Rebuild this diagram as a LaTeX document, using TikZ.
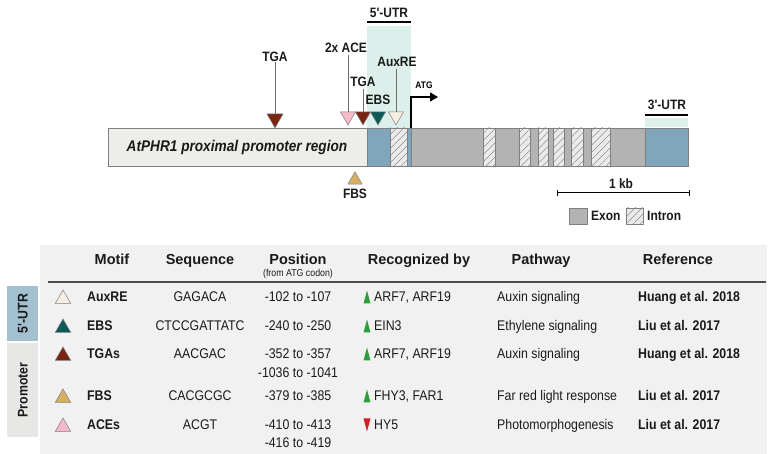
\documentclass[tikz,border=0pt]{standalone}
\usepackage{fontspec}
\setmainfont{Liberation Sans}
\newfontfamily\nf[FakeStretch=0.88]{Liberation Sans}
\usetikzlibrary{shapes.geometric,patterns.meta,arrows.meta}
\definecolor{promfill}{HTML}{EDEDEA}
\definecolor{barline}{HTML}{7F7F7F}
\definecolor{utrblue}{HTML}{7FA6BA}
\definecolor{exongray}{HTML}{B3B3B3}
\definecolor{intronbg}{HTML}{EBEBEB}
\definecolor{hatchc}{HTML}{8C8C8C}
\definecolor{utrshade}{HTML}{DCEFEA}
\definecolor{tgac}{HTML}{7A2412}
\definecolor{acec}{HTML}{F5B9CB}
\definecolor{ebsc}{HTML}{0D5B57}
\definecolor{auxc}{HTML}{F6EEE2}
\definecolor{fbsc}{HTML}{D7AF60}
\definecolor{greenc}{HTML}{2E9E3C}
\definecolor{redc}{HTML}{D02028}
\definecolor{tablebg}{HTML}{F1F1F1}
\definecolor{sidefive}{HTML}{A2C0CF}
\definecolor{sideprom}{HTML}{E7E7E5}
\definecolor{connc}{HTML}{6E6E6E}
\definecolor{txt}{HTML}{1A1A1A}
\begin{document}
\begin{tikzpicture}[x=1pt,y=-1pt,
  box/.style={draw=barline,line width=0.6pt},
  exon/.style={box,fill=exongray},
  utr/.style={box,fill=utrblue},
  intron/.style={box,preaction={fill=intronbg},pattern={Lines[angle=45,distance=5pt,line width=0.5pt]},pattern color=hatchc},
  maplab/.style={font=\nf\fontsize{13.6}{13.6}\selectfont\bfseries,text=txt,inner sep=0pt,anchor=base},
  conn/.style={draw=connc,line width=0.6pt},
  dtri/.style={regular polygon,regular polygon sides=3,shape border rotate=180,minimum size=17.3pt,inner sep=0pt,draw=barline,line width=0.5pt},
  utri/.style={regular polygon,regular polygon sides=3,minimum size=16.2pt,inner sep=0pt,draw=barline,line width=0.5pt},
  hdr/.style={font=\fontsize{14.5}{14.5}\selectfont\bfseries,text=txt,inner sep=0pt,anchor=base},
  cell/.style={font=\nf\fontsize{14}{14}\selectfont,text=txt,inner sep=0pt,anchor=base},
  cellw/.style={cell,anchor=base west},
  cellb/.style={cell,anchor=base west,font=\nf\fontsize{14}{14}\selectfont\bfseries},
  side/.style={font=\nf\fontsize{14}{14}\selectfont\bfseries,text=txt,inner sep=0pt,rotate=90}
]
\useasboundingbox[fill=white] (0,0) rectangle (780,454);

% ---------- gene map ----------
\fill[utrshade] (367,26) rectangle (411,128);
\fill[utrshade] (645,118) rectangle (688,127);
\node[maplab] (utr5) at (389,18) {5'-UTR};
\draw[line width=1.3pt] (367,22) -- (411,22);
\node[maplab] (utr3) at (667,110) {3'-UTR};
\draw[line width=1.3pt] (645,115) -- (688,115);

\draw[box,fill=promfill] (108,128) rectangle (367,166);
\node[font=\nf\fontsize{15.5}{15.5}\selectfont\bfseries\itshape,text=txt,inner sep=0pt] (prom) at (237,147) {AtPHR1 proximal promoter region};
\draw[utr] (367,128) rectangle (390,166);
\draw[intron] (390,128) rectangle (407,166);
\draw[utr] (407,128) rectangle (411,166);
\draw[exon] (411,128) rectangle (483,166);
\draw[intron] (483,128) rectangle (495,166);
\draw[exon] (495,128) rectangle (519,166);
\draw[intron] (519,128) rectangle (530,166);
\draw[exon] (530,128) rectangle (538,166);
\draw[intron] (538,128) rectangle (548,166);
\draw[exon] (548,128) rectangle (553,166);
\draw[intron] (553,128) rectangle (564,166);
\draw[exon] (564,128) rectangle (571,166);
\draw[intron] (571,128) rectangle (583,166);
\draw[exon] (583,128) rectangle (591,166);
\draw[intron] (591,128) rectangle (610,166);
\draw[exon] (610,128) rectangle (645,166);
\draw[utr] (645,128) rectangle (688,166);

% ATG arrow
\coordinate (atgbase) at (411,128);
\coordinate (atgend) at (438,97);
\draw[line width=1.1pt,-{Triangle[length=8pt,width=9pt]}] (atgbase) |- (atgend);
\node[font=\nf\fontsize{9.5}{9.5}\selectfont\bfseries,inner sep=0pt,anchor=base] (atg) at (424,89) {ATG};

% motif triangles
\node[dtri,minimum size=18.5pt,fill=tgac] (tgaA) at (275,118.6) {};
\node[dtri,fill=acec] (ace) at (348,116.3) {};
\node[dtri,fill=tgac] (tgaB) at (363,116.3) {};
\node[dtri,fill=ebsc] (ebs) at (378,116.3) {};
\node[dtri,fill=auxc] (aux) at (396,116.3) {};
\node[utri,fill=fbsc] (fbs) at (355,180) {};

\node[maplab] (tgaAl) at (275,62) {TGA};
\draw[conn] (tgaAl.south) -- (tgaA.north);
\node[maplab] (acel) at (346,52.5) {2x ACE};
\draw[conn] (ace.north |- acel.south) ++(0,2) -- (ace.north);
\node[maplab] (tgaBl) at (363,86.5) {TGA};
\draw[conn] (tgaBl.south) ++(0,2) -- (tgaB.north);
\node[maplab] (ebsl) at (378,104.5) {EBS};
\node[maplab] (auxl) at (397,66.5) {AuxRE};
\draw[conn] (aux.north |- auxl.south) ++(0,2) -- (aux.north);
\node[maplab] (fbsl) at (355,198.5) {FBS};

% scale bar and legend
\coordinate (sbl) at (557,193);
\coordinate (sbr) at (689,193);
\draw[line width=1pt] (sbl) -- (sbr);
\draw[line width=1pt] (557,190) -- (557,196) (689,190) -- (689,196);
\node[maplab] (kb) at (621,189) {1 kb};
\draw[exon] (569,208) rectangle (587,224);
\node[maplab,anchor=base west] (exl) at (591,221) {Exon};
\draw[intron] (626,208) rectangle (643,224);
\node[maplab,anchor=base west] (inl) at (647,221) {Intron};

% ---------- table ----------
\fill[tablebg] (40,245) rectangle (767,454);
\draw[line width=1.2pt,draw=black!70] (48,282) -- (766,282);
\fill[sidefive] (7,286) rectangle (38,341);
\fill[sideprom] (7,343) rectangle (38,437);
\node[side] (s5) at (23,313.5) {5'-UTR};
\node[side] (sp) at (23,390) {Promoter};

\node[hdr] (hmotif) at (112,265) {Motif};
\node[hdr] (hseq) at (200,265) {Sequence};
\node[hdr] (hpos) at (298,265) {Position};
\node[font=\nf\fontsize{10}{10}\selectfont,text=txt,inner sep=0pt,anchor=base] (hpos2) at (298,276.5) {(from ATG codon)};
\node[hdr] (hrec) at (419,265) {Recognized by};
\node[hdr] (hpath) at (541,265) {Pathway};
\node[hdr] (href) at (678,265) {Reference};

% icons
\node[utri,minimum size=18pt,fill=auxc] (i1) at (63,299) {};
\node[utri,minimum size=18pt,fill=ebsc] (i2) at (63,328) {};
\node[utri,minimum size=18pt,fill=tgac] (i3) at (63,356) {};
\node[utri,minimum size=18pt,fill=fbsc] (i4) at (63,398) {};
\node[utri,minimum size=18pt,fill=acec] (i5) at (63,427) {};

% rows
\node[cellb] (m1) at (87,302) {AuxRE};
\node[cellb] (m2) at (87,331) {EBS};
\node[cellb] (m3) at (87,359) {TGAs};
\node[cellb] (m4) at (87,401) {FBS};
\node[cellb] (m5) at (87,430) {ACEs};

\node[cell] (q1) at (200,302) {GAGACA};
\node[cell] (q2) at (200,331) {CTCCGATTATC};
\node[cell] (q3) at (200,359) {AACGAC};
\node[cell] (q4) at (200,401) {CACGCGC};
\node[cell] (q5) at (200,430) {ACGT};

\node[cell] (p1) at (298,302) {-102 to -107};
\node[cell] (p2) at (298,331) {-240 to -250};
\node[cell] (p3) at (298,359) {-352 to -357};
\node[cell] (p3b) at (298,378) {-1036 to -1041};
\node[cell] (p4) at (298,401) {-379 to -385};
\node[cell] (p5) at (298,430) {-410 to -413};
\node[cell] (p5b) at (298,448) {-416 to -419};

\foreach \yy in {297,326,354,396}{
  \fill[greenc] (363.5,\yy+6.5) -- (370.5,\yy+6.5) -- (367,\yy-6.5) -- cycle;
}
\fill[redc] (363.5,418.5) -- (370.5,418.5) -- (367,431.5) -- cycle;
\node[cellw] (r1) at (374,302) {ARF7, ARF19};
\node[cellw] (r2) at (374,331) {EIN3};
\node[cellw] (r3) at (374,359) {ARF7, ARF19};
\node[cellw] (r4) at (374,401) {FHY3, FAR1};
\node[cellw] (r5) at (374,430) {HY5};

\node[cellw] (w1) at (497,302) {Auxin signaling};
\node[cellw] (w2) at (497,331) {Ethylene signaling};
\node[cellw] (w3) at (497,359) {Auxin signaling};
\node[cellw] (w4) at (497,401) {Far red light response};
\node[cellw] (w5) at (497,430) {Photomorphogenesis};

\node[cellb] (f1) at (638,302) {Huang et al. 2018};
\node[cellb] (f2) at (638,331) {Liu et al. 2017};
\node[cellb] (f3) at (638,359) {Huang et al. 2018};
\node[cellb] (f4) at (638,401) {Liu et al. 2017};
\node[cellb] (f5) at (638,430) {Liu et al. 2017};
\end{tikzpicture}
\end{document}
